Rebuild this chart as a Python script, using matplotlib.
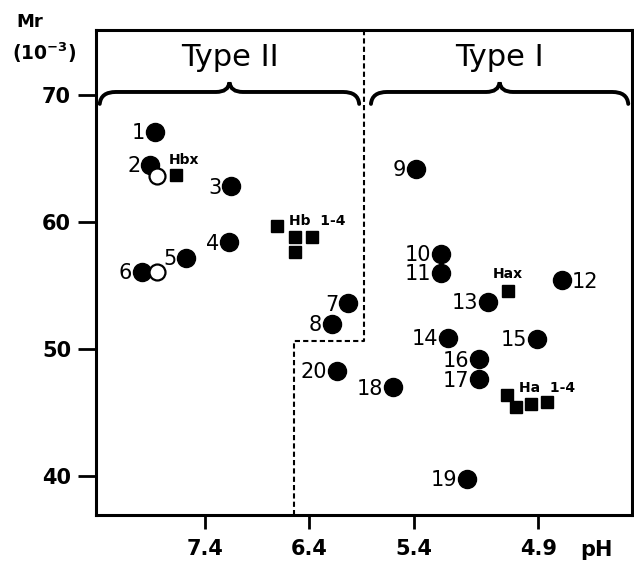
import numpy as np
import matplotlib
matplotlib.use("Agg")
import matplotlib.pyplot as plt
from matplotlib.path import Path
from matplotlib.patches import PathPatch

# x = position along the IEF gel (arbitrary units, pH gradient is not linear)
ph_tick_pos = [2.03, 3.97, 5.93, 8.25]
ph_tick_labels = ["7.4", "6.4", "5.4", "4.9"]
mr_ticks = [40, 50, 60, 70]

# numbered spots (filled circles)
spot_ids = ["1", "2", "3", "4", "5", "6", "7", "8", "9", "10",
            "11", "12", "13", "14", "15", "16", "17", "18", "19", "20"]
spot_x = [1.10, 1.01, 2.52, 2.48, 1.68, 0.86, 4.70, 4.40, 5.97, 6.44,
          6.44, 8.69, 7.31, 6.57, 8.23, 7.15, 7.15, 5.54, 6.92, 4.50]
spot_mr = [67.1, 64.5, 62.8, 58.4, 57.2, 56.1, 53.6, 52.0, 64.2, 57.5,
           56.0, 55.4, 53.7, 50.9, 50.8, 49.2, 47.6, 47.0, 39.8, 48.3]

# open circles
open_x = [1.14, 1.14]
open_mr = [63.6, 56.1]

# reference keratins (squares)
hbx_x, hbx_mr = [1.49], [63.7]
hb_x = [3.38, 3.71, 4.03, 3.71]
hb_mr = [59.7, 58.8, 58.8, 57.6]
hax_x, hax_mr = [7.69], [54.6]
ha_x = [7.67, 7.84, 8.12, 8.41]
ha_mr = [46.4, 45.4, 45.7, 45.8]

# type groups: brace spans along x
type_names = ["Type II", "Type I"]
type_span = [(0.07, 4.91), (5.13, 9.93)]

# boundary between the two types (dashed)
bound_x_upper = 5.0
bound_x_lower = 3.69
bound_mr = 50.6

xlim = (0, 10)
ylim = (36.93, 75.12)

plt.rcParams['font.family'] = ['DejaVu Sans']

fig = plt.figure(figsize=(6.34, 5.62), dpi=100)
ax = fig.add_axes([96/634, 1 - 515/562, 536/634, 485/562])

ax.set_xlim(*xlim)
ax.set_ylim(*ylim)

for s in ax.spines.values():
    s.set_linewidth(2.2)

ax.set_xticks(ph_tick_pos)
ax.set_xticklabels(ph_tick_labels, fontsize=15, fontweight='bold')
ax.set_yticks(mr_ticks)
ax.set_yticklabels([str(v) for v in mr_ticks], fontsize=15, fontweight='bold')
ax.tick_params(axis='x', direction='out', length=10, width=2, pad=7)
ax.tick_params(axis='y', direction='out', length=13, width=2, pad=5)

# dashed boundary
ax.plot([bound_x_upper, bound_x_upper, bound_x_lower, bound_x_lower],
        [ylim[1], bound_mr, bound_mr, ylim[0]],
        color='k', lw=1.5, ls=(0, (2.5, 1.5)), zorder=2)

# spots
ax.plot(spot_x, spot_mr, 'o', color='k', ms=13, zorder=3)
ax.plot(open_x, open_mr, 'o', mfc='white', mec='k', mew=1.6, ms=11.5, zorder=4)
sq_x = hbx_x + hb_x + hax_x + ha_x
sq_mr = hbx_mr + hb_mr + hax_mr + ha_mr
ax.plot(sq_x, sq_mr, 's', color='k', ms=8, zorder=3)

for sid, x, y in zip(spot_ids, spot_x, spot_mr):
    if sid == "12":
        ax.annotate(sid, (x, y), xytext=(7, -1), textcoords='offset points',
                    ha='left', va='center', fontsize=15)
    else:
        ax.annotate(sid, (x, y), xytext=(-7, -1), textcoords='offset points',
                    ha='right', va='center', fontsize=15)

small = dict(textcoords='offset points', fontsize=10, fontweight='bold', va='center')
ax.annotate("Hbx", (hbx_x[0], hbx_mr[0]), xytext=(-5, 11), ha='left', **small)
ax.annotate("Hb  1-4", (hb_x[1], hb_mr[1]), xytext=(-4.5, 11.5), ha='left', **small)
ax.annotate("Hax", (hax_x[0], hax_mr[0]), xytext=(0, 12), ha='center', **small)
ax.annotate("Ha  1-4", (ha_x[2], ha_mr[2]), xytext=(-9, 11), ha='left', **small)

# curly braces with type labels
y_end, y_mid, y_tip = 69.3, 70.24, 71.0
for name, (x0, x1) in zip(type_names, type_span):
    xc = (x0 + x1) / 2
    verts = [(x0, y_end), (x0 + 0.02, y_mid), (x0 + 0.3, y_mid),
             (xc - 0.25, y_mid),
             (xc - 0.02, y_mid), (xc, y_tip),
             (xc + 0.02, y_mid), (xc + 0.25, y_mid),
             (x1 - 0.3, y_mid),
             (x1 - 0.02, y_mid), (x1, y_end)]
    codes = [Path.MOVETO, Path.CURVE3, Path.CURVE3,
             Path.LINETO,
             Path.CURVE3, Path.CURVE3,
             Path.CURVE3, Path.CURVE3,
             Path.LINETO,
             Path.CURVE3, Path.CURVE3]
    ax.add_patch(PathPatch(Path(verts, codes), fill=False, lw=2.8,
                           edgecolor='k', capstyle='round', zorder=2))
    ax.text(xc, 72.25, name, ha='center', va='baseline', fontsize=22)

# axis labels
fig.text(30/634, 1 - 22/562, "Mr", ha='center', va='center',
         fontsize=13, fontweight='bold')
fig.text(44/634, 1 - 53/562, r"(10$^{\mathbf{-3}}$)", ha='center', va='center',
         fontsize=13.5, fontweight='bold')
fig.text(596/634, 1 - 550/562, "pH", ha='center', va='center',
         fontsize=15, fontweight='bold')

fig.savefig("out.png", dpi=100)
